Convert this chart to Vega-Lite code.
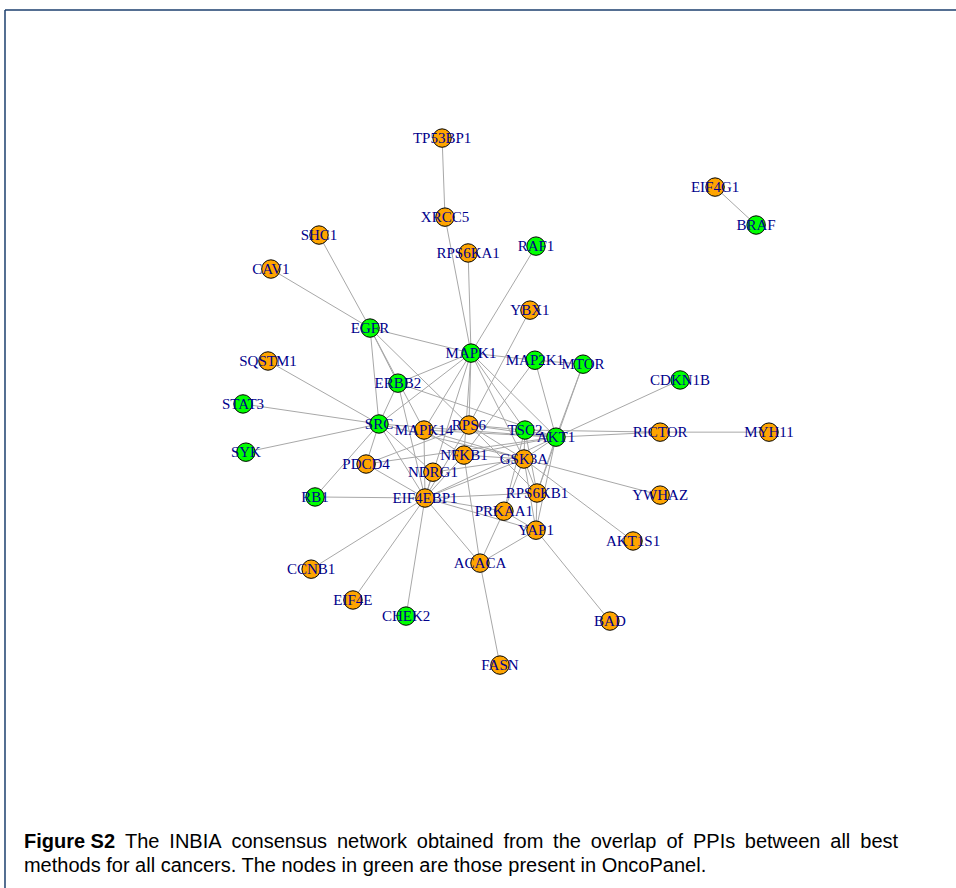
{
  "$schema": "https://vega.github.io/schema/vega-lite/v6.json",
  "width": 956,
  "height": 888,
  "autosize": "none",
  "padding": 0,
  "background": "white",
  "config": {"view": {"stroke": null}},
  "datasets": {
    "nodes": [
      {"id": "TP53BP1", "x": -0.243, "y": 1.000, "panel": "no"},
      {"id": "XRCC5", "x": -0.232, "y": 0.700, "panel": "no"},
      {"id": "RPS6KA1", "x": -0.144, "y": 0.564, "panel": "no"},
      {"id": "RAF1", "x": 0.114, "y": 0.590, "panel": "yes"},
      {"id": "EIF4G1", "x": 0.795, "y": 0.814, "panel": "no"},
      {"id": "BRAF", "x": 0.951, "y": 0.670, "panel": "yes"},
      {"id": "SHC1", "x": -0.711, "y": 0.632, "panel": "no"},
      {"id": "CAV1", "x": -0.894, "y": 0.503, "panel": "no"},
      {"id": "EGFR", "x": -0.517, "y": 0.279, "panel": "yes"},
      {"id": "YBX1", "x": 0.091, "y": 0.347, "panel": "no"},
      {"id": "MAPK1", "x": -0.133, "y": 0.184, "panel": "yes"},
      {"id": "MAP2K1", "x": 0.110, "y": 0.157, "panel": "yes"},
      {"id": "MTOR", "x": 0.293, "y": 0.142, "panel": "yes"},
      {"id": "SQSTM1", "x": -0.905, "y": 0.154, "panel": "no"},
      {"id": "CDKN1B", "x": 0.662, "y": 0.082, "panel": "yes"},
      {"id": "ERBB2", "x": -0.411, "y": 0.070, "panel": "yes"},
      {"id": "STAT3", "x": -1.000, "y": -0.009, "panel": "yes"},
      {"id": "SRC", "x": -0.483, "y": -0.085, "panel": "yes"},
      {"id": "MAPK14", "x": -0.312, "y": -0.108, "panel": "no"},
      {"id": "RPS6", "x": -0.141, "y": -0.089, "panel": "no"},
      {"id": "TSC2", "x": 0.072, "y": -0.108, "panel": "yes"},
      {"id": "AKT1", "x": 0.190, "y": -0.135, "panel": "yes"},
      {"id": "RICTOR", "x": 0.586, "y": -0.116, "panel": "no"},
      {"id": "MYH11", "x": 1.000, "y": -0.116, "panel": "no"},
      {"id": "SYK", "x": -0.989, "y": -0.192, "panel": "yes"},
      {"id": "NFKB1", "x": -0.160, "y": -0.203, "panel": "no"},
      {"id": "GSK3A", "x": 0.068, "y": -0.218, "panel": "no"},
      {"id": "PDCD4", "x": -0.532, "y": -0.237, "panel": "no"},
      {"id": "NDRG1", "x": -0.278, "y": -0.268, "panel": "no"},
      {"id": "YWHAZ", "x": 0.586, "y": -0.355, "panel": "no"},
      {"id": "RPS6KB1", "x": 0.118, "y": -0.347, "panel": "no"},
      {"id": "RB1", "x": -0.726, "y": -0.362, "panel": "yes"},
      {"id": "EIF4EBP1", "x": -0.308, "y": -0.366, "panel": "no"},
      {"id": "PRKAA1", "x": -0.008, "y": -0.416, "panel": "no"},
      {"id": "YAP1", "x": 0.114, "y": -0.488, "panel": "no"},
      {"id": "AKT1S1", "x": 0.483, "y": -0.529, "panel": "no"},
      {"id": "ACACA", "x": -0.099, "y": -0.613, "panel": "no"},
      {"id": "CCNB1", "x": -0.741, "y": -0.636, "panel": "no"},
      {"id": "EIF4E", "x": -0.582, "y": -0.753, "panel": "no"},
      {"id": "CHEK2", "x": -0.380, "y": -0.814, "panel": "yes"},
      {"id": "BAD", "x": 0.395, "y": -0.833, "panel": "no"},
      {"id": "FASN", "x": -0.023, "y": -1.000, "panel": "no"}
    ],
    "edges": [
      {"from": "TP53BP1", "to": "XRCC5"}, {"from": "XRCC5", "to": "MAPK1"},
      {"from": "RPS6KA1", "to": "MAPK1"}, {"from": "RAF1", "to": "MAPK1"},
      {"from": "EIF4G1", "to": "BRAF"}, {"from": "SHC1", "to": "EGFR"},
      {"from": "CAV1", "to": "EGFR"}, {"from": "YBX1", "to": "RPS6"},
      {"from": "EGFR", "to": "MAPK1"}, {"from": "EGFR", "to": "ERBB2"},
      {"from": "EGFR", "to": "SRC"}, {"from": "EGFR", "to": "MAPK14"},
      {"from": "EGFR", "to": "RPS6"}, {"from": "SQSTM1", "to": "SRC"},
      {"from": "STAT3", "to": "SRC"}, {"from": "SYK", "to": "SRC"},
      {"from": "SRC", "to": "ERBB2"}, {"from": "SRC", "to": "MAPK1"},
      {"from": "SRC", "to": "PDCD4"}, {"from": "SRC", "to": "RB1"},
      {"from": "SRC", "to": "EIF4EBP1"}, {"from": "SRC", "to": "AKT1"},
      {"from": "SRC", "to": "NDRG1"}, {"from": "SRC", "to": "GSK3A"},
      {"from": "ERBB2", "to": "MAPK1"}, {"from": "ERBB2", "to": "EIF4EBP1"},
      {"from": "ERBB2", "to": "AKT1"}, {"from": "MAPK1", "to": "MAP2K1"},
      {"from": "MAPK1", "to": "RPS6"}, {"from": "MAPK1", "to": "NFKB1"},
      {"from": "MAPK1", "to": "AKT1"}, {"from": "MAPK1", "to": "GSK3A"},
      {"from": "MAPK1", "to": "MAPK14"}, {"from": "MAPK1", "to": "EIF4EBP1"},
      {"from": "MAPK1", "to": "TSC2"}, {"from": "MAP2K1", "to": "MTOR"},
      {"from": "MAP2K1", "to": "AKT1"}, {"from": "MAP2K1", "to": "NFKB1"},
      {"from": "MTOR", "to": "AKT1"}, {"from": "MTOR", "to": "RPS6KB1"},
      {"from": "CDKN1B", "to": "AKT1"}, {"from": "RICTOR", "to": "AKT1"},
      {"from": "RICTOR", "to": "TSC2"}, {"from": "RICTOR", "to": "MYH11"},
      {"from": "RPS6", "to": "TSC2"}, {"from": "RPS6", "to": "AKT1"},
      {"from": "RPS6", "to": "GSK3A"}, {"from": "RPS6", "to": "RPS6KB1"},
      {"from": "RPS6", "to": "EIF4EBP1"}, {"from": "RPS6", "to": "PDCD4"},
      {"from": "TSC2", "to": "AKT1"}, {"from": "TSC2", "to": "GSK3A"},
      {"from": "TSC2", "to": "PRKAA1"}, {"from": "TSC2", "to": "RPS6KB1"},
      {"from": "AKT1", "to": "GSK3A"}, {"from": "AKT1", "to": "RPS6KB1"},
      {"from": "AKT1", "to": "YAP1"}, {"from": "AKT1", "to": "NFKB1"},
      {"from": "AKT1", "to": "EIF4EBP1"}, {"from": "AKT1", "to": "MAPK14"},
      {"from": "AKT1", "to": "PDCD4"}, {"from": "GSK3A", "to": "YWHAZ"},
      {"from": "GSK3A", "to": "AKT1S1"}, {"from": "GSK3A", "to": "RPS6KB1"},
      {"from": "GSK3A", "to": "YAP1"}, {"from": "GSK3A", "to": "PRKAA1"},
      {"from": "GSK3A", "to": "NFKB1"}, {"from": "GSK3A", "to": "MAPK14"},
      {"from": "GSK3A", "to": "EIF4EBP1"}, {"from": "NFKB1", "to": "ACACA"},
      {"from": "NFKB1", "to": "MAPK14"}, {"from": "NFKB1", "to": "EIF4EBP1"},
      {"from": "RPS6KB1", "to": "YAP1"}, {"from": "RPS6KB1", "to": "EIF4EBP1"},
      {"from": "YAP1", "to": "PRKAA1"}, {"from": "YAP1", "to": "ACACA"},
      {"from": "YAP1", "to": "EIF4EBP1"}, {"from": "YAP1", "to": "BAD"},
      {"from": "PRKAA1", "to": "EIF4EBP1"}, {"from": "PRKAA1", "to": "ACACA"},
      {"from": "ACACA", "to": "FASN"}, {"from": "ACACA", "to": "EIF4EBP1"},
      {"from": "EIF4EBP1", "to": "RB1"}, {"from": "EIF4EBP1", "to": "CCNB1"},
      {"from": "EIF4EBP1", "to": "EIF4E"}, {"from": "EIF4EBP1", "to": "CHEK2"},
      {"from": "EIF4EBP1", "to": "PDCD4"}, {"from": "EIF4EBP1", "to": "NDRG1"},
      {"from": "EIF4EBP1", "to": "MAPK14"}, {"from": "NDRG1", "to": "GSK3A"}
    ],
    "caption": [
      {"text": "Figure S2", "x": -1.833, "y": -1.672, "weight": "bold"},
      {"text": "The", "x": -1.449, "y": -1.672, "weight": "normal"},
      {"text": "INBIA", "x": -1.280, "y": -1.672, "weight": "normal"},
      {"text": "consensus", "x": -1.044, "y": -1.672, "weight": "normal"},
      {"text": "network", "x": -0.643, "y": -1.672, "weight": "normal"},
      {"text": "obtained", "x": -0.339, "y": -1.672, "weight": "normal"},
      {"text": "from", "x": -0.010, "y": -1.672, "weight": "normal"},
      {"text": "the", "x": 0.179, "y": -1.672, "weight": "normal"},
      {"text": "overlap", "x": 0.322, "y": -1.672, "weight": "normal"},
      {"text": "of", "x": 0.610, "y": -1.672, "weight": "normal"},
      {"text": "PPIs", "x": 0.711, "y": -1.672, "weight": "normal"},
      {"text": "between", "x": 0.908, "y": -1.672, "weight": "normal"},
      {"text": "all", "x": 1.233, "y": -1.672, "weight": "normal"},
      {"text": "best", "x": 1.347, "y": -1.672, "weight": "normal"},
      {"text": "methods for all cancers. The nodes in green are those present in OncoPanel.", "x": -1.833, "y": -1.763, "weight": "normal"}
    ],
    "frame": [
      {"x": -1.905, "y": 1.486, "x2": 1.711, "y2": 1.486},
      {"x": -1.905, "y": 1.486, "x2": -1.905, "y2": -1.846}
    ]
  },
  "layer": [
    {
      "data": {"name": "frame"},
      "mark": {"type": "rule", "color": "#1c3f6e", "strokeWidth": 1.5},
      "encoding": {
        "x": {"field": "x", "type": "quantitative", "scale": {"domain": [-1.924, 1.711]}, "axis": null},
        "y": {"field": "y", "type": "quantitative", "scale": {"domain": [-1.846, 1.524]}, "axis": null},
        "x2": {"field": "x2"},
        "y2": {"field": "y2"}
      }
    },
    {
      "data": {"name": "edges"},
      "transform": [
        {"lookup": "from", "from": {"data": {"name": "nodes"}, "key": "id", "fields": ["x", "y"]}, "as": ["x1", "y1"]},
        {"lookup": "to", "from": {"data": {"name": "nodes"}, "key": "id", "fields": ["x", "y"]}, "as": ["xb", "yb"]}
      ],
      "mark": {"type": "rule", "color": "#A8A8A8", "strokeWidth": 1},
      "encoding": {
        "x": {"field": "x1", "type": "quantitative", "scale": {"domain": [-1.924, 1.711]}, "axis": null},
        "y": {"field": "y1", "type": "quantitative", "scale": {"domain": [-1.846, 1.524]}, "axis": null},
        "x2": {"field": "xb"},
        "y2": {"field": "yb"}
      }
    },
    {
      "data": {"name": "nodes"},
      "mark": {"type": "point", "filled": true, "shape": "circle", "size": 340, "stroke": "black", "strokeWidth": 1, "opacity": 1},
      "encoding": {
        "x": {"field": "x", "type": "quantitative", "scale": {"domain": [-1.924, 1.711]}, "axis": null},
        "y": {"field": "y", "type": "quantitative", "scale": {"domain": [-1.846, 1.524]}, "axis": null},
        "color": {"field": "panel", "type": "nominal", "scale": {"domain": ["no", "yes"], "range": ["#FFA500", "#00FF00"]}, "legend": null}
      }
    },
    {
      "data": {"name": "nodes"},
      "mark": {"type": "text", "font": "Liberation Serif", "fontSize": 15, "color": "#00008B", "align": "center", "baseline": "middle"},
      "encoding": {
        "x": {"field": "x", "type": "quantitative", "scale": {"domain": [-1.924, 1.711]}, "axis": null},
        "y": {"field": "y", "type": "quantitative", "scale": {"domain": [-1.846, 1.524]}, "axis": null},
        "text": {"field": "id"}
      }
    },
    {
      "data": {"name": "caption"},
      "transform": [{"filter": "datum.weight == 'normal'"}],
      "mark": {"type": "text", "font": "Liberation Sans", "fontSize": 20, "color": "black", "align": "left", "baseline": "middle"},
      "encoding": {
        "x": {"field": "x", "type": "quantitative", "scale": {"domain": [-1.924, 1.711]}, "axis": null},
        "y": {"field": "y", "type": "quantitative", "scale": {"domain": [-1.846, 1.524]}, "axis": null},
        "text": {"field": "text"}
      }
    },
    {
      "data": {"name": "caption"},
      "transform": [{"filter": "datum.weight == 'bold'"}],
      "mark": {"type": "text", "font": "Liberation Sans", "fontSize": 20, "fontWeight": "bold", "color": "black", "align": "left", "baseline": "middle"},
      "encoding": {
        "x": {"field": "x", "type": "quantitative", "scale": {"domain": [-1.924, 1.711]}, "axis": null},
        "y": {"field": "y", "type": "quantitative", "scale": {"domain": [-1.846, 1.524]}, "axis": null},
        "text": {"field": "text"}
      }
    }
  ]
}
